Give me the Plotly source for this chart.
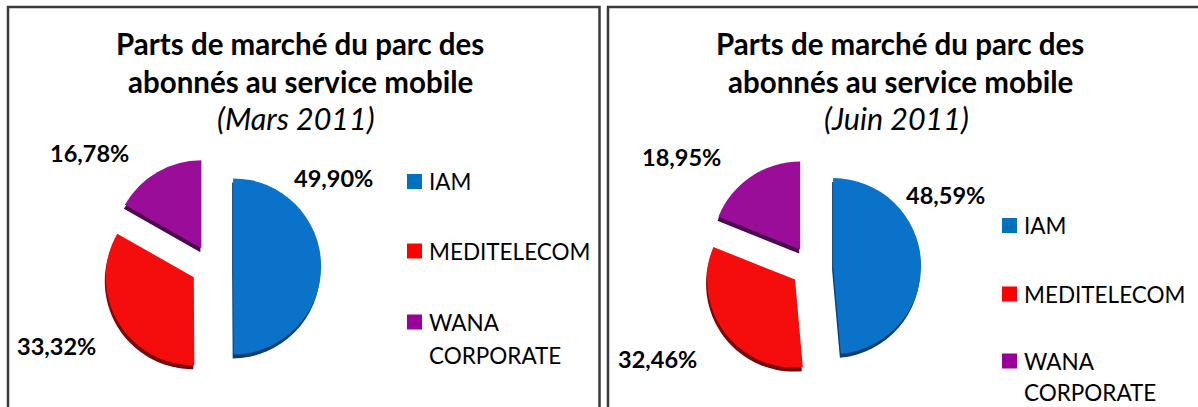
import plotly.graph_objects as go

# ---------------- data ----------------
operators = ["IAM", "MEDITELECOM", "WANA CORPORATE"]
legend_labels = ["IAM", "MEDITELECOM", "WANA<br>CORPORATE"]
values_mars = [49.90, 33.32, 16.78]
values_juin = [48.59, 32.46, 18.95]
title_lines = ["Parts de marché du parc des", "abonnés au service mobile"]
periods = ["(Mars 2011)", "(Juin 2011)"]

colors = ["#0A72C8", "#F50D0D", "#990D99"]
shadow_colors = ["#0A3F70", "#7A0808", "#4D0650"]
legend_colors = ["#0070C0", "#FF0000", "#990099"]

W, H = 1198, 407
FONT = "Lato"


def fx(x):
    return x / W


def fy(y):
    return 1 - y / H


def fmt(v):
    return f"{v:.2f}".replace(".", ",") + "%"


PULL = 0.24
R = 88.0
BOX = 2 * R * (1 + PULL)

panels = [
    dict(values=values_mars, period=periods[0], cx=212, cy=266.5, tcx=300,
         label_pos=[(333, 178), (56, 346), (89, 153)],
         leg_x=407, leg_y=[181.5, 251, 322], leg_y2=355),
    dict(values=values_juin, period=periods[1], cx=812, cy=267, tcx=900,
         label_pos=[(945, 195), (657, 359), (682, 157)],
         leg_x=1002, leg_y=[225.5, 294, 361], leg_y2=392),
]

fig = go.Figure()
annotations = []
shapes = []

for p in panels:
    # shadow (3D edge) copy, slightly lower
    for dy, cols in ((4, shadow_colors), (0, colors)):
        cx, cy = p["cx"] - (1 if dy else 0), p["cy"] + dy
        fig.add_trace(go.Pie(
            labels=operators, values=p["values"], sort=False,
            direction="clockwise", rotation=0, pull=[PULL] * 3,
            marker=dict(colors=cols, line=dict(width=0)),
            textinfo="none", hoverinfo="label+percent" if dy == 0 else "skip",
            showlegend=False,
            domain=dict(x=[fx(cx - BOX / 2), fx(cx + BOX / 2)],
                        y=[fy(cy + BOX / 2), fy(cy - BOX / 2)]),
        ))

    # titles
    for txt, y in zip(title_lines, [43.5, 81]):
        annotations.append(dict(text=f"<b>{txt}</b>", x=fx(p["tcx"]), y=fy(y),
                                xref="paper", yref="paper", showarrow=False,
                                xanchor="center", yanchor="middle",
                                font=dict(family=FONT, size=29.5, color="#000")))
    annotations.append(dict(text=f"<i>{p['period']}</i>", x=fx(p["tcx"] - 4), y=fy(118),
                            xref="paper", yref="paper", showarrow=False,
                            xanchor="center", yanchor="middle",
                            font=dict(family=FONT, size=30.5, color="#000")))

    # percentage labels
    for v, (lx, ly) in zip(p["values"], p["label_pos"]):
        annotations.append(dict(text=f"<b>{fmt(v)}</b>", x=fx(lx), y=fy(ly),
                                xref="paper", yref="paper", showarrow=False,
                                xanchor="center", yanchor="middle",
                                font=dict(family=FONT, size=23.5, color="#000")))

    # legend
    for i, (lab, col, ly) in enumerate(zip(legend_labels, legend_colors, p["leg_y"])):
        shapes.append(dict(type="rect", xref="paper", yref="paper",
                           x0=fx(p["leg_x"]), x1=fx(p["leg_x"] + 15),
                           y0=fy(ly + 7.5), y1=fy(ly - 7.5),
                           fillcolor=col, line=dict(width=0)))
        parts = lab.split("<br>")
        annotations.append(dict(text=parts[0], x=fx(p["leg_x"] + 20), y=fy(ly),
                                xref="paper", yref="paper", showarrow=False,
                                xanchor="left", yanchor="middle",
                                font=dict(family=FONT, size=22.5, color="#000")))
        if len(parts) > 1:
            annotations.append(dict(text=parts[1], x=fx(p["leg_x"] + 20), y=fy(p["leg_y2"]),
                                    xref="paper", yref="paper", showarrow=False,
                                    xanchor="left", yanchor="middle",
                                    font=dict(family=FONT, size=22.5, color="#000")))

# panel borders
for x0, x1 in ((8, 599.5), (608, 1210)):
    shapes.append(dict(type="rect", xref="paper", yref="paper",
                       x0=fx(x0), x1=fx(x1), y0=fy(430), y1=fy(7),
                       line=dict(color="#3a3a3a", width=2.5), fillcolor="rgba(0,0,0,0)"))

fig.update_layout(
    width=W, height=H,
    margin=dict(l=0, r=0, t=0, b=0),
    paper_bgcolor="white", plot_bgcolor="white",
    showlegend=False,
    annotations=annotations,
    shapes=shapes,
    font=dict(family=FONT),
)

fig.write_html("out.html",
               config={"displayModeBar": False},
               post_script="document.body.style.margin='0';document.body.style.overflow='hidden';")
